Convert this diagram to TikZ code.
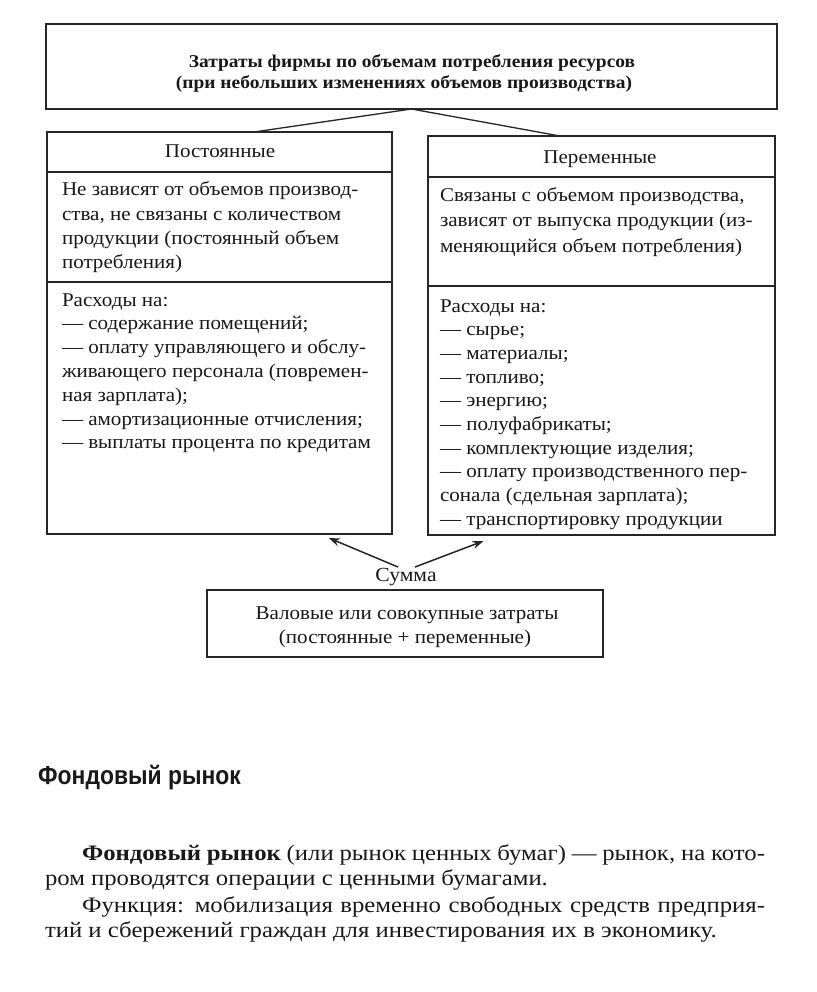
\documentclass[tikz,border=0pt]{standalone}
\usepackage{fontspec}
\setmainfont[FakeStretch=1.08]{Liberation Serif}
\newfontfamily\parafont[FakeStretch=1.12]{Liberation Serif}
\newfontfamily\headsans[FakeStretch=0.88]{Liberation Sans}
\usetikzlibrary{arrows.meta,calc}
\begin{document}
\begin{tikzpicture}[x=1pt,y=-1pt,
  frame/.style={draw=black!85, line width=1.4pt, inner sep=0pt, outer sep=0pt},
  txt/.style={inner sep=0pt, outer sep=0pt, font=\fontsize{19.5}{22}\selectfont, anchor=base west, text=black!90},
  ctxt/.style={txt, anchor=base},
  btxt/.style={inner sep=0pt, outer sep=0pt, font=\fontsize{18}{20}\selectfont\bfseries, anchor=base, text=black!90},
  ptxt/.style={inner sep=0pt, outer sep=0pt, font=\parafont\fontsize{22.1}{24}\selectfont, anchor=base west, text=black!90},
  link/.style={draw=black!85, line width=1.3pt},
  arr/.style={draw=black!85, line width=1.5pt, -{Stealth[length=11pt,width=8pt]}}]
\useasboundingbox (0,0) rectangle (816,992);
\fill[white] (0,0) rectangle (816,992);

% boxes
\node[frame, minimum width=731pt, minimum height=85pt] (top) at (411.5,66.5) {};
\node[frame, minimum width=345pt, minimum height=40pt] (lhead) at (219.5,152) {};
\node[frame, minimum width=345pt, minimum height=110pt] (ldesc) at (219.5,227) {};
\node[frame, minimum width=345pt, minimum height=252pt] (llist) at (219.5,408) {};
\node[frame, minimum width=347pt, minimum height=41pt] (rhead) at (601.5,156.5) {};
\node[frame, minimum width=347pt, minimum height=109pt] (rdesc) at (601.5,231.5) {};
\node[frame, minimum width=347pt, minimum height=249pt] (rlist) at (601.5,410.5) {};
\node[frame, minimum width=396pt, minimum height=67pt] (total) at (405,623.5) {};

% top texts
\node[btxt] (t1) at (412,68) {Затраты фирмы по объемам потребления ресурсов};
\node[btxt] (t2) at (404,89) {(при небольших изменениях объемов производства)};

% headers
\node[ctxt] (lh) at (220,158) {Постоянные};
\node[ctxt] (rh) at (600,164) {Переменные};

% left description
\foreach \t [count=\i] in {{Не зависят от объемов производ-},{ства, не связаны с количеством},{продукции (постоянный объем},{потребления)}}
  \node[txt] (ld\i) at ({62},{196+24.3*(\i-1)}) {\t};

% right description
\foreach \t [count=\i] in {{Связаны с объемом производства,},{зависят от выпуска продукции (из-},{меняющийся объем потребления)}}
  \node[txt] (rd\i) at ({440},{202+25*(\i-1)}) {\t};

% left list
\foreach \t [count=\i] in {{Расходы на:},{— содержание помещений;},{— оплату управляющего и обслу-},{живающего персонала (повремен-},{ная зарплата);},{— амортизационные отчисления;},{— выплаты процента по кредитам}}
  \node[txt] (ll\i) at ({62},{306+23.8*(\i-1)}) {\t};

% right list
\foreach \t [count=\i] in {{Расходы на:},{— сырье;},{— материалы;},{— топливо;},{— энергию;},{— полуфабрикаты;},{— комплектующие изделия;},{— оплату производственного пер-},{сонала (сдельная зарплата);},{— транспортировку продукции}}
  \node[txt] (rl\i) at ({440},{312+23.7*(\i-1)}) {\t};

% sum and total
\node[inner sep=0pt, font=\fontsize{20}{22}\selectfont, text=black!90] (sum) at (406,577) {Сумма};
\node[ctxt] (b1) at (407,619) {Валовые или совокупные затраты};
\node[ctxt] (b2) at (405,643) {(постоянные + переменные)};

% connectors
\coordinate (lt) at ($(lhead.north west)!0.6!(lhead.north east)$);
\coordinate (rt) at ($(rhead.north west)!0.38!(rhead.north east)$);
\draw[link] (top.south) -- (lt);
\draw[link] (top.south) -- (rt);
\coordinate (la) at ($(llist.south west)!0.817!(llist.south east)+(0,4)$);
\coordinate (ra) at ($(rlist.south west)!0.16!(rlist.south east)+(0,6)$);
\draw[arr] ($(sum.north)+(-8,-1)$) -- (la);
\draw[arr] ($(sum.north)+(9,-1)$) -- (ra);

% heading and paragraph
\node[inner sep=0pt, anchor=base west, font=\headsans\fontsize{26}{28}\selectfont\bfseries, text=black!90] (head) at (38,784) {Фондовый рынок};
\node[ptxt] (p1) at (82,860) {\makebox[683pt][s]{\textbf{Фондовый рынок} (или рынок ценных бумаг) — рынок, на кото-}};
\node[ptxt] (p2) at (45,885) {ром проводятся операции с ценными бумагами.};
\node[ptxt] (p3) at (82,912) {\makebox[683pt][s]{Функция: мобилизация временно свободных средств предприя-}};
\node[ptxt] (p4) at (45,937) {тий и сбережений граждан для инвестирования их в экономику.};
\end{tikzpicture}
\end{document}
